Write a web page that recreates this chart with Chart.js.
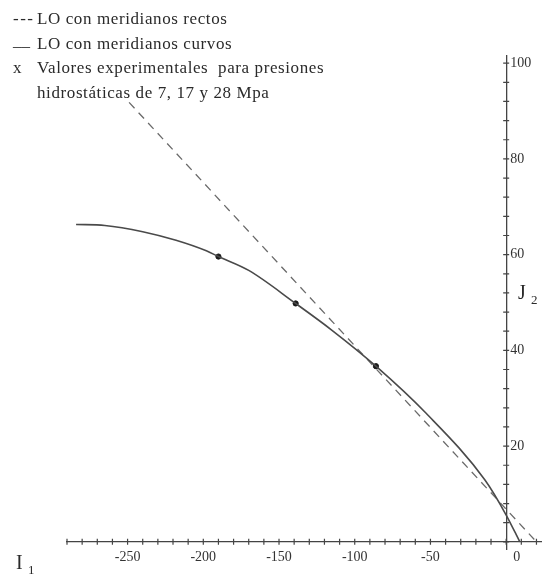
<!DOCTYPE html>
<html>
<head>
<meta charset="utf-8">
<script src="https://cdn.jsdelivr.net/npm/chart.js@4.4.1/dist/chart.umd.min.js"></script>
<style>
  html, body { margin: 0; padding: 0; background: #fff; }
  #wrap { width: 546px; height: 574px; }
</style>
</head>
<body>
<div id="wrap"><canvas id="chart-lo" width="546" height="574"></canvas></div>
<script>
// curved meridians (solid)
const curveI1 = [-284, -265, -240, -218, -198, -190, -170, -139, -115, -86, -53, -14, 0, 9];
const curveJ2 = [66.3, 66.1, 64.8, 63.0, 60.8, 59.6, 56.7, 49.8, 44.2, 36.7, 26.9, 12.9, 5.6, 0];
// straight meridians (dashed)
const rectI1 = [-249, 20];
const rectJ2 = [91.8, 0];
// experimental values
const expI1 = [-190, -139, -86];
const expJ2 = [59.6, 49.8, 36.7];
// ticks and tick labels
const xTickValues = [-290, -280, -270, -260, -250, -240, -230, -220, -210, -200, -190, -180, -170, -160, -150,
  -140, -130, -120, -110, -100, -90, -80, -70, -60, -50, -40, -30, -20, -10, 0, 10, 20];
const yTickValues = [0, 4, 8, 12, 16, 20, 24, 28, 32, 36, 40, 44, 48, 52, 56, 60, 64, 68, 72, 76, 80, 84, 88, 92, 96, 100];
const xTickLabels = [-250, -200, -150, -100, -50, 0];
const yTickLabels = [20, 40, 60, 80, 100];
const legendLines = [
  ['---', 'LO con meridianos rectos'],
  ['__', 'LO con meridianos curvos'],
  ['x', 'Valores experimentales  para presiones'],
  ['', 'hidrost\u00e1ticas de 7, 17 y 28 Mpa']
];

const toPts = (xs, ys) => xs.map((x, i) => ({x: x, y: ys[i]}));
const serif = '"Liberation Serif", "DejaVu Serif", serif';

// ticks that cross the axis on both sides, y labels on the right, legend text, axis names
const decoPlugin = {
  id: 'deco',
  afterDraw(chart) {
    const ctx = chart.ctx;
    const sx = chart.scales.x, sy = chart.scales.y;
    const x0 = sx.getPixelForValue(0), y0 = sy.getPixelForValue(0);
    ctx.save();
    ctx.strokeStyle = '#444';
    ctx.lineWidth = 1.2;
    ctx.beginPath();
    sx.ticks.forEach(t => {
      const px = sx.getPixelForValue(t.value);
      ctx.moveTo(px, y0 - 3); ctx.lineTo(px, y0 + 3);
    });
    sy.ticks.forEach(t => {
      const py = sy.getPixelForValue(t.value);
      ctx.moveTo(x0 - 3, py); ctx.lineTo(x0 + 3, py);
    });
    ctx.stroke();

    ctx.fillStyle = '#333';
    ctx.font = '14px ' + serif;
    ctx.textBaseline = 'middle';
    ctx.textAlign = 'left';
    yTickLabels.forEach(v => ctx.fillText(String(v), x0 + 4, sy.getPixelForValue(v)));

    ctx.fillStyle = '#2a2a2a';
    ctx.font = '17px ' + serif;
    legendLines.forEach((l, i) => {
      const y = 20 + i * 24.5;
      if (l[0] === '---') {
        ctx.letterSpacing = '1.5px';
        ctx.fillText(l[0], 13, y);
      } else if (l[0] === '__') {
        ctx.letterSpacing = '0px';
        ctx.fillText(l[0], 13, y - 3);
      } else {
        ctx.letterSpacing = '0px';
        ctx.fillText(l[0], 13, y);
      }
      ctx.letterSpacing = '0.6px';
      ctx.fillText(l[1], 37, y);
    });
    ctx.letterSpacing = '0px';

    ctx.textBaseline = 'alphabetic';
    ctx.font = '20px ' + serif;
    ctx.fillText('I', 16, 569);
    ctx.fillText('J', 518, 299);
    ctx.font = '13px ' + serif;
    ctx.fillText('1', 28, 574);
    ctx.fillText('2', 531, 304);
    ctx.restore();
  }
};

new Chart(document.getElementById('chart-lo'), {
  type: 'scatter',
  data: {
    datasets: [
      {
        label: 'LO con meridianos curvos',
        data: toPts(curveI1, curveJ2),
        showLine: true,
        borderColor: '#4a4a4a',
        borderWidth: 1.6,
        pointRadius: 0,
        cubicInterpolationMode: 'monotone'
      },
      {
        label: 'LO con meridianos rectos',
        data: toPts(rectI1, rectJ2),
        showLine: true,
        borderColor: '#6a6a6a',
        borderWidth: 1.3,
        borderDash: [8, 6],
        pointRadius: 0
      },
      {
        label: 'Valores experimentales',
        data: toPts(expI1, expJ2),
        showLine: false,
        pointRadius: 2.6,
        backgroundColor: '#1a1a1a',
        borderColor: '#1a1a1a'
      }
    ]
  },
  options: {
    responsive: false,
    animation: false,
    devicePixelRatio: 1,
    layout: { padding: { left: 67, right: 3, top: 56, bottom: 25 } },
    plugins: { legend: { display: false }, tooltip: { enabled: false } },
    scales: {
      x: {
        type: 'linear',
        min: -290,
        max: 23,
        position: { y: 0 },
        afterBuildTicks: s => { s.ticks = xTickValues.map(v => ({value: v})); },
        grid: { drawOnChartArea: false, drawTicks: false },
        border: { color: '#444', width: 1.3 },
        ticks: {
          autoSkip: false,
          maxRotation: 0,
          minRotation: 0,
          padding: 7,
          color: '#333',
          font: { family: serif, size: 14 },
          callback: v => xTickLabels.includes(v) ? (v === 0 ? '      0' : String(v)) : ''
        }
      },
      y: {
        type: 'linear',
        min: -1.5,
        max: 101.5,
        position: { x: 0 },
        afterBuildTicks: s => { s.ticks = yTickValues.map(v => ({value: v})); },
        grid: { drawOnChartArea: false, drawTicks: false },
        border: { color: '#444', width: 1.3 },
        ticks: {
          autoSkip: false,
          callback: () => ''
        }
      }
    }
  },
  plugins: [decoPlugin]
});
</script>
</body>
</html>
